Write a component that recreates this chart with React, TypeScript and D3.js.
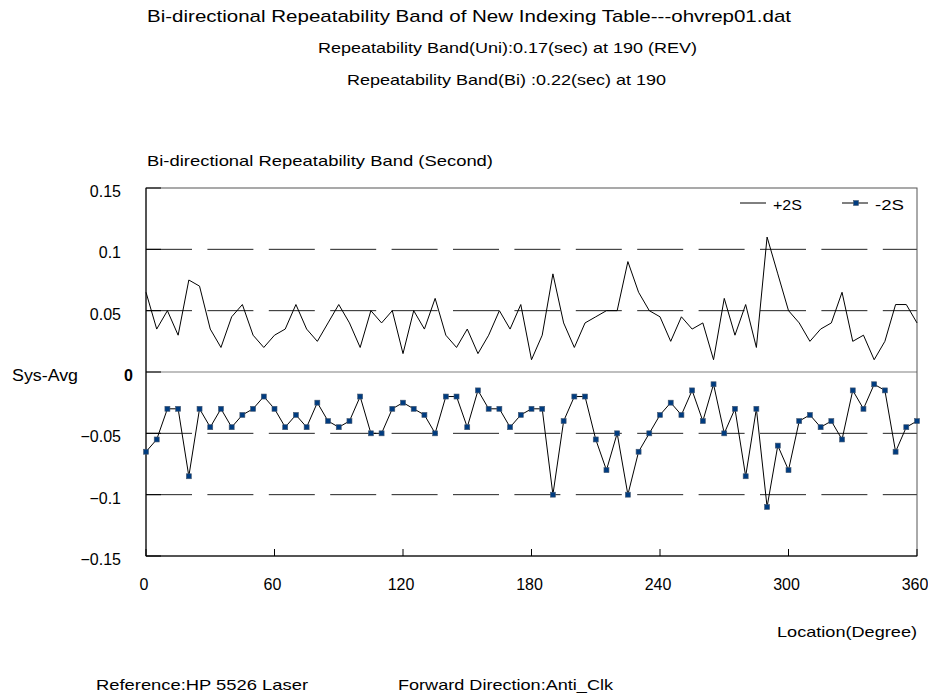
import React, { useEffect, useRef } from "react";
import * as d3 from "d3";

// location (degree), one reading every 5 degrees
const locations = [
  0, 5, 10, 15, 20, 25, 30, 35, 40, 45, 50, 55, 60, 65, 70, 75, 80, 85, 90, 95,
  100, 105, 110, 115, 120, 125, 130, 135, 140, 145, 150, 155, 160, 165, 170, 175,
  180, 185, 190, 195, 200, 205, 210, 215, 220, 225, 230, 235, 240, 245, 250, 255,
  260, 265, 270, 275, 280, 285, 290, 295, 300, 305, 310, 315, 320, 325, 330, 335,
  340, 345, 350, 355, 360,
];

const plus2S = [
  0.065, 0.035, 0.05, 0.03, 0.075, 0.07, 0.035, 0.02, 0.045, 0.055, 0.03, 0.02,
  0.03, 0.035, 0.055, 0.035, 0.025, 0.04, 0.055, 0.04, 0.02, 0.05, 0.04, 0.05,
  0.015, 0.05, 0.035, 0.06, 0.03, 0.02, 0.035, 0.015, 0.03, 0.05, 0.035, 0.055,
  0.01, 0.03, 0.08, 0.04, 0.02, 0.04, 0.045, 0.05, 0.05, 0.09, 0.065, 0.05,
  0.045, 0.025, 0.045, 0.035, 0.04, 0.01, 0.06, 0.03, 0.055, 0.02, 0.11, 0.08,
  0.05, 0.04, 0.025, 0.035, 0.04, 0.065, 0.025, 0.03, 0.01, 0.025, 0.055, 0.055,
  0.04,
];

const minus2S = [
  -0.065, -0.055, -0.03, -0.03, -0.085, -0.03, -0.045, -0.03, -0.045, -0.035,
  -0.03, -0.02, -0.03, -0.045, -0.035, -0.045, -0.025, -0.04, -0.045, -0.04,
  -0.02, -0.05, -0.05, -0.03, -0.025, -0.03, -0.035, -0.05, -0.02, -0.02,
  -0.045, -0.015, -0.03, -0.03, -0.045, -0.035, -0.03, -0.03, -0.1, -0.04,
  -0.02, -0.02, -0.055, -0.08, -0.05, -0.1, -0.065, -0.05, -0.035, -0.025,
  -0.035, -0.015, -0.04, -0.01, -0.05, -0.03, -0.085, -0.03, -0.11, -0.06,
  -0.08, -0.04, -0.035, -0.045, -0.04, -0.055, -0.015, -0.03, -0.01, -0.015,
  -0.065, -0.045, -0.04,
];

const xTicks = [0, 60, 120, 180, 240, 300, 360];
const yTicks = [0.15, 0.1, 0.05, -0.05, -0.1, -0.15];
const dashedLevels = [0.1, 0.05, -0.05, -0.1];

const titleLines = [
  "Bi-directional Repeatability Band of New Indexing Table---ohvrep01.dat",
  "Repeatability Band(Uni):0.17(sec) at 190 (REV)",
  "Repeatability Band(Bi) :0.22(sec) at 190",
];
const yAxisTitle = "Bi-directional Repeatability Band (Second)";
const xAxisTitle = "Location(Degree)";
const footNotes = ["Reference:HP 5526 Laser", "Forward Direction:Anti_Clk"];

const FONT = "'Liberation Sans', Arial, sans-serif";

export default function App() {
  const ref = useRef<SVGSVGElement>(null);

  useEffect(() => {
    const svg = d3.select(ref.current);
    svg.selectAll("*").remove();

    const left = 146, right = 917, top = 188, bottom = 556;
    const x = d3.scaleLinear().domain([0, 360]).range([left, right]);
    const y = d3.scaleLinear().domain([-0.15, 0.15]).range([bottom, top]);

    // stretched text (the source font is wider than Arial)
    const label = (s: string, tx: number, ty: number, size: number, w: number) =>
      svg.append("text")
        .attr("x", tx).attr("y", ty)
        .attr("font-size", size)
        .attr("textLength", w)
        .attr("lengthAdjust", "spacingAndGlyphs")
        .text(s);

    label(titleLines[0], 147, 22, 17, 644);
    label(titleLines[1], 318, 53, 15, 379);
    label(titleLines[2], 347, 85, 15, 319);
    label(yAxisTitle, 147, 166, 15, 346);
    label(xAxisTitle, 777, 637, 15, 140);
    label(footNotes[0], 96, 690, 15, 212);
    label(footNotes[1], 398, 690, 15, 215);

    // grid lines
    svg
      .selectAll(".grid")
      .data(dashedLevels)
      .join("line")
      .attr("class", "grid")
      .attr("x1", left)
      .attr("x2", right)
      .attr("y1", (d) => y(d))
      .attr("y2", (d) => y(d))
      .attr("stroke", "#222")
      .attr("stroke-dasharray", "46,15.4");

    svg.append("line")
      .attr("x1", left).attr("x2", right)
      .attr("y1", y(0)).attr("y2", y(0))
      .attr("stroke", "#808080").attr("stroke-width", 1.2);

    // frame
    svg.append("rect")
      .attr("x", left).attr("y", top)
      .attr("width", right - left).attr("height", bottom - top)
      .attr("fill", "none").attr("stroke", "#555");
    svg.append("path")
      .attr("d", `M${left},${top}V${bottom}H${right}`)
      .attr("fill", "none").attr("stroke", "#000");

    // ticks
    svg
      .selectAll(".ytick")
      .data([...yTicks, 0])
      .join("line")
      .attr("class", "ytick")
      .attr("x1", left).attr("x2", left + 15)
      .attr("y1", (d) => y(d)).attr("y2", (d) => y(d))
      .attr("stroke", "#000");
    svg
      .selectAll(".xtick")
      .data(xTicks)
      .join("line")
      .attr("class", "xtick")
      .attr("x1", (d) => x(d)).attr("x2", (d) => x(d))
      .attr("y1", bottom).attr("y2", bottom - 7)
      .attr("stroke", "#000");

    svg
      .selectAll(".ylab")
      .data(yTicks)
      .join("text")
      .attr("class", "ylab")
      .attr("x", 121)
      .attr("y", (d) => y(d) + 9)
      .attr("text-anchor", "end")
      .attr("font-size", 16)
      .text((d) => d3.format("")(d));
    svg.append("text").attr("x", 124).attr("y", y(0) + 9)
      .attr("font-size", 16).attr("font-weight", "bold").text("0");
    label("Sys-Avg", 12, y(0) + 9, 16, 66);

    svg
      .selectAll(".xlab")
      .data(xTicks)
      .join("text")
      .attr("class", "xlab")
      .attr("x", (d) => x(d) - 2)
      .attr("y", 590)
      .attr("text-anchor", "middle")
      .attr("font-size", 16)
      .text((d) => d);

    // series
    const line = d3.line<number>()
      .x((d, i) => x(locations[i]))
      .y((d) => y(d));

    svg.append("path").datum(plus2S).attr("d", line)
      .attr("fill", "none").attr("stroke", "#000").attr("stroke-width", 1);
    svg.append("path").datum(minus2S).attr("d", line)
      .attr("fill", "none").attr("stroke", "#000").attr("stroke-width", 1);

    svg
      .selectAll(".mark")
      .data(minus2S)
      .join("rect")
      .attr("class", "mark")
      .attr("x", (d, i) => x(locations[i]) - 2.5)
      .attr("y", (d) => y(d) - 2.5)
      .attr("width", 5)
      .attr("height", 5)
      .attr("fill", "#003c80")
      .attr("stroke", "#4a5a70")
      .attr("stroke-width", 0.6);

    // legend
    const lg = svg.append("g");
    lg.append("line").attr("x1", 740).attr("x2", 766).attr("y1", 203).attr("y2", 203)
      .attr("stroke", "#000");
    lg.append("text").attr("x", 773).attr("y", 210).attr("font-size", 15)
      .attr("textLength", 29).attr("lengthAdjust", "spacingAndGlyphs").text("+2S");
    lg.append("line").attr("x1", 842).attr("x2", 868).attr("y1", 203).attr("y2", 203)
      .attr("stroke", "#000");
    lg.append("rect").attr("x", 853.5).attr("y", 200.5).attr("width", 5).attr("height", 5)
      .attr("fill", "#003c80").attr("stroke", "#4a5a70").attr("stroke-width", 0.6);
    lg.append("text").attr("x", 875).attr("y", 210).attr("font-size", 15)
      .attr("textLength", 29).attr("lengthAdjust", "spacingAndGlyphs").text("-2S");
  }, []);

  return (
    <svg
      ref={ref}
      width={928}
      height={698}
      style={{ position: "absolute", left: 0, top: 0, background: "#fff" }}
      fontFamily={FONT}
    />
  );
}
